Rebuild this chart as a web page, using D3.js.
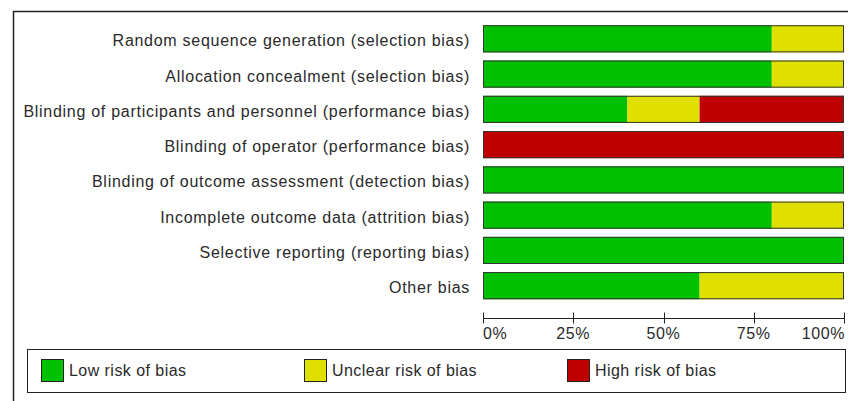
<!DOCTYPE html>
<html>
<head>
<meta charset="utf-8">
<script src="https://cdn.jsdelivr.net/npm/d3@7"></script>
<style>
  body { margin: 0; background: #fff; }
  svg { display: block; font-family: "Liberation Sans", Arial, sans-serif; }
</style>
</head>
<body>
<div id="chart"></div>
<script>
// risk-of-bias domains, top to bottom
const domains = [
  "Random sequence generation (selection bias)",
  "Allocation concealment (selection bias)",
  "Blinding of participants and personnel (performance bias)",
  "Blinding of operator (performance bias)",
  "Blinding of outcome assessment (detection bias)",
  "Incomplete outcome data (attrition bias)",
  "Selective reporting (reporting bias)",
  "Other bias"
];

// percent of studies per judgement
const lowRisk     = [80, 80, 40, 0, 100, 80, 100, 60];
const unclearRisk = [20, 20, 20, 0, 0, 20, 0, 40];
const highRisk    = [0, 0, 40, 100, 0, 0, 0, 0];

const judgements = ["Low risk of bias", "Unclear risk of bias", "High risk of bias"];
const colors = ["#00c000", "#e0e000", "#c00000"];
const tickValues = [0, 25, 50, 75, 100];

const W = 848, H = 401;

const svg = d3.select("#chart").append("svg")
  .attr("width", W)
  .attr("height", H);

// outer frame (runs off the right and bottom edges)
svg.append("rect")
  .attr("x", 13.5).attr("y", 11.5)
  .attr("width", 860).attr("height", 420)
  .attr("fill", "none")
  .attr("stroke", "#222")
  .attr("stroke-width", 1.5);

const x = d3.scaleLinear().domain([0, 100]).range([483, 844]);

const y = d3.scaleBand()
  .domain(domains)
  .range([21, 303.5])
  .paddingInner(0.23)
  .paddingOuter(0.12);

// stack rows
const rows = domains.map((d, i) => ({
  domain: d,
  low: lowRisk[i], unclear: unclearRisk[i], high: highRisk[i]
}));
const stack = d3.stack().keys(["low", "unclear", "high"])(rows);

/* ─── Bars ─── */
const layers = svg.selectAll(".layer")
  .data(stack)
  .enter()
  .append("g")
  .attr("fill", (d, i) => colors[i]);

layers.selectAll("rect")
  .data(d => d.filter(s => s[1] - s[0] > 0))
  .enter()
  .append("rect")
  .attr("x", d => x(d[0]))
  .attr("y", d => y(d.data.domain))
  .attr("width", d => x(d[1]) - x(d[0]))
  .attr("height", y.bandwidth());

// bar outlines
svg.selectAll(".outline")
  .data(domains)
  .enter()
  .append("rect")
  .attr("x", x(0) + 0.5)
  .attr("y", d => y(d) + 0.5)
  .attr("width", x(100) - x(0) - 1)
  .attr("height", y.bandwidth() - 1)
  .attr("fill", "none")
  .attr("stroke", "#333")
  .attr("stroke-width", 1);

/* ─── Category labels ─── */
svg.selectAll(".label")
  .data(domains)
  .enter()
  .append("text")
  .attr("x", 470)
  .attr("y", d => y(d) + y.bandwidth() / 2 + 2)
  .attr("dy", "0.35em")
  .attr("text-anchor", "end")
  .attr("font-size", 16)
  .attr("letter-spacing", "0.72px")
  .attr("fill", "#2a2a2a")
  .text(d => d);

/* ─── Axis ─── */
const axisY = 318.5;
const axis = svg.append("g");
axis.append("line")
  .attr("x1", x(0)).attr("x2", x(100))
  .attr("y1", axisY).attr("y2", axisY)
  .attr("stroke", "#222");

axis.selectAll(".tick")
  .data(tickValues)
  .enter()
  .append("line")
  .attr("x1", d => Math.round(x(d)) + 0.5)
  .attr("x2", d => Math.round(x(d)) + 0.5)
  .attr("y1", axisY - 6)
  .attr("y2", axisY + 5)
  .attr("stroke", "#222");

axis.selectAll(".tickLabel")
  .data(tickValues)
  .enter()
  .append("text")
  .attr("x", (d, i) => x(d) + (i === tickValues.length - 1 ? 1 : 0))
  .attr("y", 339)
  .attr("text-anchor", (d, i) => i === 0 ? "start" : i === tickValues.length - 1 ? "end" : "middle")
  .attr("font-size", 16)
  .attr("letter-spacing", "0.6px")
  .attr("fill", "#2a2a2a")
  .text(d => d + "%");

/* ─── Legend ─── */
svg.append("rect")
  .attr("x", 27.5).attr("y", 349.5)
  .attr("width", 818).attr("height", 43)
  .attr("fill", "none")
  .attr("stroke", "#222");

const legendX = [41, 304, 567];
const legend = svg.selectAll(".legend")
  .data(judgements)
  .enter()
  .append("g")
  .attr("transform", (d, i) => `translate(${legendX[i]},359)`);

legend.append("rect")
  .attr("x", 0.5).attr("y", 0.5)
  .attr("width", 22).attr("height", 22)
  .attr("fill", (d, i) => colors[i])
  .attr("stroke", "#222");

legend.append("text")
  .attr("x", 28)
  .attr("y", 17)
  .attr("font-size", 16)
  .attr("letter-spacing", "0.45px")
  .attr("fill", "#2a2a2a")
  .text(d => d);
</script>
</body>
</html>
